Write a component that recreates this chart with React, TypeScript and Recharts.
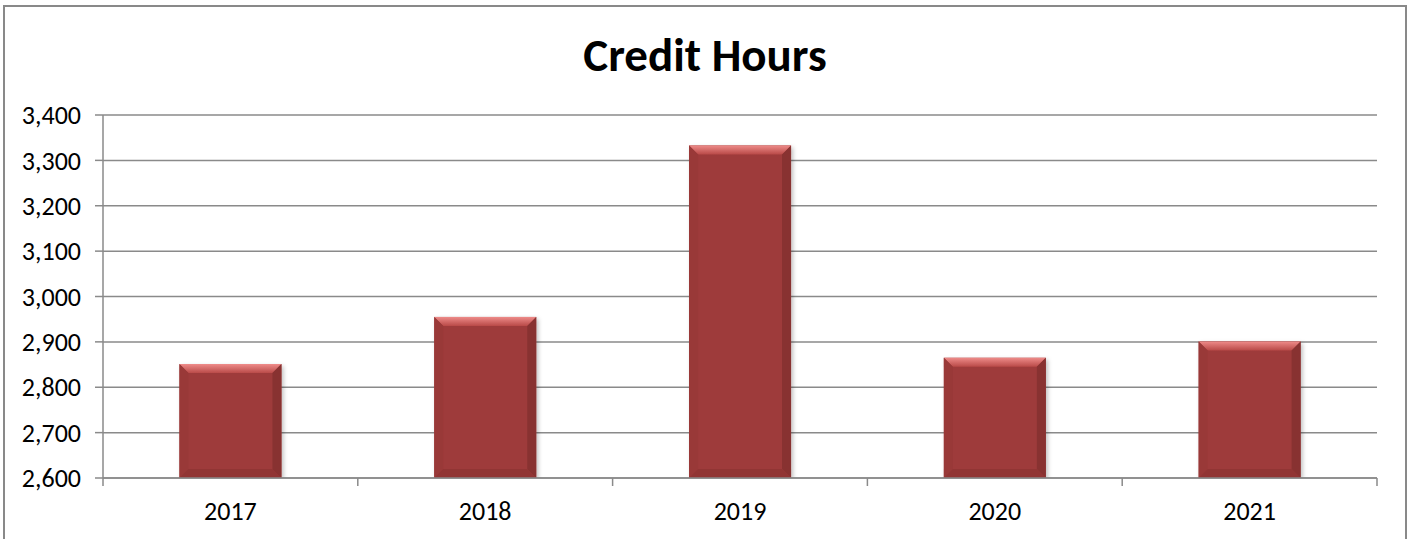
import { BarChart, Bar, XAxis, YAxis, CartesianGrid } from 'recharts'

const years = ['2017', '2018', '2019', '2020', '2021']
const creditHours = [2851, 2955, 3333, 2865, 2901]
const yTicks = [2600, 2700, 2800, 2900, 3000, 3100, 3200, 3300, 3400]

const data = years.map((year, i) => ({ year, hours: creditHours[i] }))

const FONT = "Calibri, Carlito, 'Liberation Sans', Arial, sans-serif"
const GRID = '#8a8a8a'

const CHART_W = 1410
const CHART_H = 539
const MARGIN = { top: 115, right: 33, bottom: 0, left: 0 }
const Y_AXIS_W = 103
const TICK_SIZE = 8
const TICK_MARGIN = 16
const HALF_BAND = (CHART_W - MARGIN.right - MARGIN.left - Y_AXIS_W) / years.length / 2

function BevelBar(props: any) {
  const { x, y, width: w, height: h, index } = props
  if (!w || !h || h <= 0) return null
  const b = Math.min(9, w / 4, h / 4)
  const gid = `bevelTop${index}`
  const fid = `barShadow${index}`
  return (
    <g>
      <defs>
        <linearGradient id={gid} x1="0" y1="0" x2="0" y2="1">
          <stop offset="0%" stopColor="#ee8b89" />
          <stop offset="100%" stopColor="#b94a48" />
        </linearGradient>
        <filter id={fid} x="-10%" y="-10%" width="130%" height="130%">
          <feDropShadow dx="2" dy="2" stdDeviation="2" floodColor="#000" floodOpacity="0.25" />
        </filter>
      </defs>
      <rect x={x} y={y} width={w} height={h} fill="#9e3b3a" filter={`url(#${fid})`} />
      <polygon points={`${x},${y} ${x + w},${y} ${x + w - b},${y + b} ${x + b},${y + b}`} fill={`url(#${gid})`} />
      <polygon points={`${x},${y} ${x + b},${y + b} ${x + b},${y + h - b} ${x},${y + h}`} fill="#993938" />
      <polygon points={`${x + w},${y} ${x + w - b},${y + b} ${x + w - b},${y + h - b} ${x + w},${y + h}`} fill="#883231" />
      <polygon points={`${x},${y + h} ${x + b},${y + h - b} ${x + w - b},${y + h - b} ${x + w},${y + h}`} fill="#913534" />
    </g>
  )
}

// category labels, with Excel-style tick marks between categories
function YearTick(props: any) {
  const { x, y, payload, index } = props
  const axisY = y - TICK_SIZE - TICK_MARGIN
  const marks = [x - HALF_BAND]
  if (index === years.length - 1) marks.push(x + HALF_BAND)
  return (
    <g>
      {marks.map((mx, i) => (
        <line key={i} x1={mx} x2={mx} y1={axisY} y2={axisY + TICK_SIZE} stroke={GRID} strokeWidth={1.5} />
      ))}
      <text x={x} y={y} dy="0.71em" textAnchor="middle" fill="#000" fontSize={26} fontFamily={FONT}>
        {payload.value}
      </text>
    </g>
  )
}

export default function App() {
  return (
    <div style={{ position: 'absolute', left: 0, top: 0, width: CHART_W, height: CHART_H, overflow: 'hidden', background: '#fff' }}>
      <div style={{ position: 'absolute', left: 3, top: 5, width: 1400, height: 560, border: '2px solid #898989' }} />
      <div
        style={{
          position: 'absolute', left: 0, width: CHART_W, top: 32, textAlign: 'center',
          fontFamily: FONT, fontWeight: 'bold', fontSize: 47, lineHeight: '47px', color: '#000',
        }}
      >
        Credit Hours
      </div>
      <div style={{ position: 'absolute', left: 0, top: 0 }}>
        <BarChart
          width={CHART_W}
          height={CHART_H}
          data={data}
          margin={MARGIN}
          barCategoryGap="30%"
        >
          <CartesianGrid vertical={false} stroke={GRID} strokeWidth={1.5} />
          <XAxis
            dataKey="year"
            height={61}
            axisLine={{ stroke: GRID, strokeWidth: 1.5 }}
            tickLine={false}
            tickSize={TICK_SIZE}
            tickMargin={TICK_MARGIN}
            interval={0}
            tick={<YearTick />}
          />
          <YAxis
            width={Y_AXIS_W}
            domain={[2600, 3400]}
            ticks={yTicks}
            interval={0}
            allowDataOverflow
            axisLine={{ stroke: GRID, strokeWidth: 1.5 }}
            tickLine={{ stroke: GRID, strokeWidth: 1.5 }}
            tickSize={8}
            tickMargin={14}
            tickFormatter={(v: number) => v.toLocaleString('en-US')}
            tick={{ fill: '#000', fontSize: 26, fontFamily: FONT }}
          />
          <Bar dataKey="hours" shape={BevelBar} isAnimationActive={false} />
        </BarChart>
      </div>
    </div>
  )
}
